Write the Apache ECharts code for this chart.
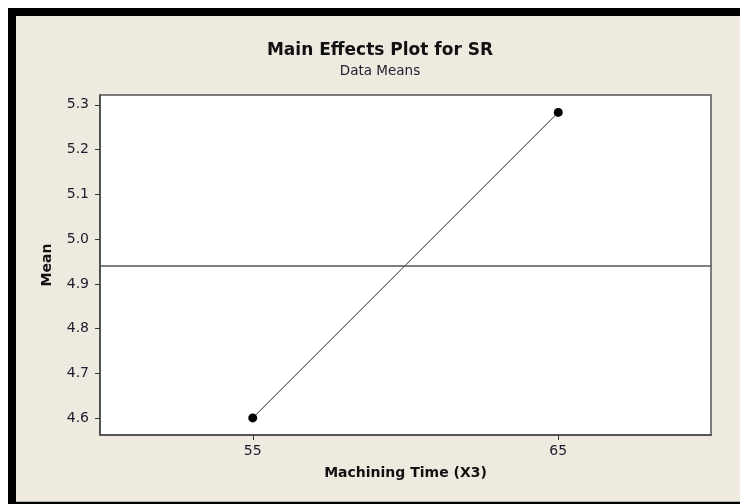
<!DOCTYPE html>
<html>
<head>
<meta charset="utf-8">
<script src="https://cdn.jsdelivr.net/npm/echarts@6/dist/echarts.min.js"></script>
<style>
  html, body { margin: 0; padding: 0; background: #fff; }
  #chart { width: 740px; height: 504px; }
</style>
</head>
<body>
<div id="chart"></div>
<script>
// Levels of machining time and the mean SR at each level
const levels = [55, 65];
const means = [4.601, 5.283];
const yTicks = [4.6, 4.7, 4.8, 4.9, 5.0, 5.1, 5.2, 5.3];

// Grand mean across the levels (reference line)
const grandMean = means.reduce((a, b) => a + b, 0) / means.length;

const FONT = 'DejaVu Sans';
const TEXT = '#1c1c2c';
const chart = echarts.init(document.getElementById('chart'), null, { renderer: 'canvas' });

chart.setOption({
  backgroundColor: '#eeeae0',
  animation: false,
  title: {
    text: 'Main Effects Plot for SR',
    subtext: 'Data Means',
    left: 375,
    textAlign: 'center',
    top: 37,
    itemGap: 5,
    textStyle: { fontFamily: FONT, fontWeight: 'bold', fontSize: 17, color: '#111' },
    subtextStyle: { fontFamily: FONT, fontSize: 13.5, color: TEXT }
  },
  graphic: [
    { type: 'rect', shape: { x: 0, y: 0, width: 740, height: 8 }, style: { fill: '#fff' }, silent: true },
    { type: 'rect', shape: { x: 0, y: 0, width: 8, height: 504 }, style: { fill: '#fff' }, silent: true },
    { type: 'rect', shape: { x: 8, y: 8, width: 732, height: 8 }, style: { fill: '#000' }, silent: true },
    { type: 'rect', shape: { x: 8, y: 8, width: 8, height: 496 }, style: { fill: '#000' }, silent: true },
    { type: 'rect', shape: { x: 16, y: 501, width: 724, height: 1 }, style: { fill: '#aaa' }, silent: true },
    { type: 'rect', shape: { x: 8, y: 502, width: 732, height: 2 }, style: { fill: '#000' }, silent: true }
  ],
  grid: {
    left: 100, top: 95, right: 29, bottom: 69,
    show: true, backgroundColor: '#fff', borderColor: '#555', borderWidth: 1.5
  },
  xAxis: {
    type: 'value',
    min: 50, max: 70,
    name: 'Machining Time (X3)',
    nameLocation: 'middle',
    nameGap: 31,
    nameTextStyle: { fontFamily: FONT, fontWeight: 'bold', fontSize: 14, color: '#111' },
    splitLine: { show: false },
    axisLine: { show: true, lineStyle: { color: '#555', width: 2 } },
    axisTick: { show: true, customValues: levels, length: 5, lineStyle: { color: '#333' } },
    axisLabel: { customValues: levels, fontFamily: FONT, fontSize: 14, color: TEXT, margin: 9 }
  },
  yAxis: {
    type: 'value',
    min: 4.5628, max: 5.3218,
    name: 'Mean',
    nameLocation: 'middle',
    nameRotate: 90,
    nameGap: 46,
    nameTextStyle: { fontFamily: FONT, fontWeight: 'bold', fontSize: 14, color: '#111' },
    splitLine: { show: false },
    axisLine: { show: true, lineStyle: { color: '#444', width: 1.5 } },
    axisTick: { show: true, customValues: yTicks, length: 5, lineStyle: { color: '#333' } },
    axisLabel: {
      customValues: yTicks, fontFamily: FONT, fontSize: 14, color: TEXT, margin: 11,
      formatter: v => v.toFixed(1)
    }
  },
  series: [{
    type: 'line',
    data: levels.map((x, i) => [x, means[i]]),
    symbol: 'circle',
    symbolSize: 9,
    itemStyle: { color: '#000' },
    lineStyle: { color: '#333', width: 1 },
    markLine: {
      silent: true,
      symbol: 'none',
      label: { show: false },
      lineStyle: { color: '#555', width: 1.5, type: 'solid' },
      data: [{ yAxis: grandMean }]
    }
  }]
});
</script>
</body>
</html>
